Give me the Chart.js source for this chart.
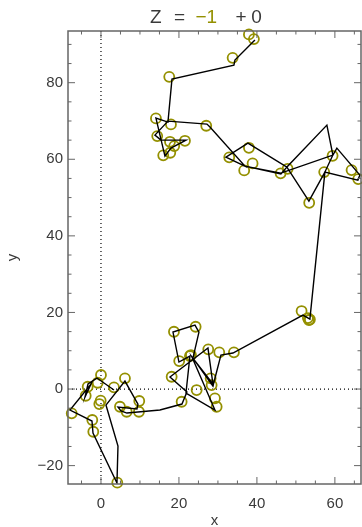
<!DOCTYPE html>
<html>
<head>
<meta charset="utf-8">
<script src="https://cdn.jsdelivr.net/npm/chart.js@4.4.1/dist/chart.umd.min.js"></script>
<style>
  body { margin: 0; background: #fff; }
  canvas { display: block; }
</style>
</head>
<body>
<canvas id="trackChart" width="362" height="527"></canvas>
<script>
// circle markers
const circleX = [37.95, 39.23, 33.77, 17.51, 14.10, 17.95, 27.00, 14.43, 17.70, 21.54, 18.79, 17.77, 15.97,
  32.90, 37.95, 38.89, 36.74, 47.88, 46.08, 59.41, 57.26, 64.28, 65.98, 53.41, 51.46, 53.08, 53.59, 53.34,
  18.72, 24.28, 22.82, 23.08, 27.52, 30.34, 34.10, 28.13, 28.38, 20.69, 29.23, 29.67, 20.07, 18.13, 24.54,
  0.00, -0.85, -3.41, -3.92, 3.33, 6.15, -0.08, -0.43, -7.51, -2.23, -1.97, 4.87, 6.59, 9.82, 9.74, 4.18];
const circleY = [92.61, 91.38, 86.50, 81.54, 70.68, 69.11, 68.75, 66.06, 64.57, 64.83, 63.45, 61.70, 61.02,
  60.50, 63.00, 58.93, 57.10, 57.52, 56.32, 60.91, 56.66, 57.18, 54.83, 48.64, 20.37, 18.54, 18.15, 18.02,
  14.96, 16.27, 8.62, 8.88, 10.37, 9.58, 9.58, 2.79, 1.04, -3.32, -2.43, -4.62, 7.31, 3.21, -0.26,
  3.66, 1.64, 0.60, -1.75, 0.44, 2.79, -3.05, -3.92, -6.34, -8.09, -11.15, -4.62, -5.93, -3.13, -5.93, -24.46];

// track line
const pathX = [3.33, -1.03, -3.33, -4.10, -2.56, -7.95, -2.31, -2.05, 4.10, 4.36, 1.28, 6.15, 9.48, 9.23,
  4.36, 5.13, 6.66, 15.12, 20.77, 22.05, 17.70, 27.44, 28.72, 23.34, 29.23, 21.80, 22.82, 20.00, 18.47,
  24.11, 25.13, 23.59, 28.72, 30.77, 33.85, 51.80, 53.59, 57.44, 59.49, 60.51, 66.41, 65.90, 57.44,
  53.34, 47.69, 46.15, 36.92, 46.15, 59.49, 57.95, 47.69, 37.69, 32.05, 36.92, 27.95, 27.18, 17.18,
  13.84, 15.38, 21.80, 17.95, 16.41, 14.10, 17.18, 18.21, 34.10, 34.36, 39.49];
const pathY = [-0.26, 2.87, 1.31, -2.09, 1.31, -5.48, -8.36, -11.49, -24.54, -14.88, -4.18, 2.09, -3.92,
  -5.22, -4.70, -5.74, -6.27, -5.48, -3.92, -0.78, 3.13, 10.70, 1.31, 8.36, -5.48, -1.04, 8.62, 7.05,
  14.88, 16.71, 14.88, 8.09, 0.78, 8.88, 9.40, 19.32, 18.28, 56.66, 61.10, 62.92, 55.87, 54.57, 56.66,
  49.09, 57.96, 56.14, 58.22, 56.40, 61.10, 68.93, 57.96, 64.23, 60.57, 58.22, 68.41, 69.19, 69.97,
  66.32, 65.01, 65.01, 62.92, 60.84, 70.76, 69.71, 80.94, 84.60, 85.90, 91.12];

const xLabelTicks = [0, 20, 40, 60];
const yLabelTicks = [-20, 0, 20, 40, 60, 80];

const olive = '#949000';
const textGray = '#3a3a3a';

function fmt(v) {
  return v < 0 ? '\u2212' + Math.abs(v) : String(v);
}

const decor = {
  id: 'decor',
  beforeDatasetsDraw(chart) {
    const { ctx, chartArea: a, scales: { x, y } } = chart;
    const px = x.getPixelForValue(0), py = y.getPixelForValue(0);
    ctx.save();
    ctx.strokeStyle = '#000';
    ctx.lineWidth = 1.2;
    ctx.setLineDash([1, 3]);
    ctx.beginPath();
    ctx.moveTo(px, a.top); ctx.lineTo(px, a.bottom);
    ctx.moveTo(a.left, py); ctx.lineTo(a.right, py);
    ctx.stroke();
    ctx.restore();
  },
  afterDatasetsDraw(chart) {
    const { ctx, chartArea: a, scales: { x, y } } = chart;
    ctx.save();
    ctx.strokeStyle = '#666';
    ctx.lineWidth = 1.5;
    ctx.strokeRect(a.left, a.top, a.right - a.left, a.bottom - a.top);
    ctx.lineWidth = 1;
    ctx.beginPath();
    x.ticks.forEach(t => {
      const p = x.getPixelForValue(t.value);
      const len = xLabelTicks.includes(t.value) ? 7 : 3.5;
      ctx.moveTo(p, a.bottom); ctx.lineTo(p, a.bottom - len);
      ctx.moveTo(p, a.top); ctx.lineTo(p, a.top + len);
    });
    y.ticks.forEach(t => {
      const p = y.getPixelForValue(t.value);
      const len = yLabelTicks.includes(t.value) ? 7 : 3.5;
      ctx.moveTo(a.left, p); ctx.lineTo(a.left + len, p);
      ctx.moveTo(a.right, p); ctx.lineTo(a.right - len, p);
    });
    ctx.stroke();
    ctx.restore();
  },
  afterDraw(chart) {
    // title "Z = -1 +0", the -1 in olive
    const ctx = chart.ctx;
    ctx.save();
    ctx.font = '19px "Liberation Sans"';
    ctx.textBaseline = 'alphabetic';
    ctx.textAlign = 'left';
    ctx.fillStyle = textGray;
    ctx.fillText('Z', 150, 23);
    ctx.fillText('=', 174, 23);
    ctx.fillStyle = olive;
    ctx.fillText('\u22121', 195.5, 23);
    ctx.fillStyle = textGray;
    ctx.fillText('+', 235.5, 23);
    ctx.fillText('0', 251.3, 23);
    ctx.restore();
  }
};

const tickFont = { family: 'Liberation Sans', size: 15 };

new Chart(document.getElementById('trackChart'), {
  type: 'scatter',
  data: {
    datasets: [
      {
        label: 'track',
        data: pathX.map((v, i) => ({ x: v, y: pathY[i] })),
        showLine: true,
        borderColor: '#000',
        borderWidth: 1.4,
        pointRadius: 0,
        fill: false,
        order: 0
      },
      {
        label: 'points',
        data: circleX.map((v, i) => ({ x: v, y: circleY[i] })),
        pointRadius: 5,
        pointBorderWidth: 1.8,
        pointBorderColor: olive,
        pointBackgroundColor: 'rgba(0,0,0,0)',
        clip: false,
        order: 1
      }
    ]
  },
  options: {
    responsive: false,
    animation: false,
    layout: { autoPadding: false, padding: { top: 31, right: 1, left: 0, bottom: 0 } },
    plugins: {
      legend: { display: false },
      tooltip: { enabled: false },
      title: { display: false }
    },
    scales: {
      x: {
        type: 'linear',
        min: -8.46,
        max: 66.7,
        grid: { display: false, drawTicks: false },
        border: { display: false },
        ticks: {
          stepSize: 5,
          includeBounds: false,
          autoSkip: false,
          maxRotation: 0,
          padding: 11,
          color: textGray,
          font: tickFont,
          callback: v => xLabelTicks.includes(v) ? fmt(v) : ''
        },
        title: { display: true, text: 'x', color: textGray, font: tickFont, padding: { top: 0, bottom: -3 } },
        afterFit: s => { s.height = 43; s.paddingLeft = 0; s.paddingRight = 0; }
      },
      y: {
        type: 'linear',
        min: -24.8,
        max: 93.5,
        grid: { display: false, drawTicks: false },
        border: { display: false },
        ticks: {
          stepSize: 5,
          includeBounds: false,
          autoSkip: false,
          padding: 5,
          color: textGray,
          font: tickFont,
          callback: v => yLabelTicks.includes(v) ? fmt(v) : ''
        },
        title: { display: true, text: 'y', color: textGray, font: tickFont, padding: { top: 4, bottom: 0 } },
        afterFit: s => { s.width = 68; s.paddingTop = 0; s.paddingBottom = 0; }
      }
    }
  },
  plugins: [decor]
});
</script>
</body>
</html>
